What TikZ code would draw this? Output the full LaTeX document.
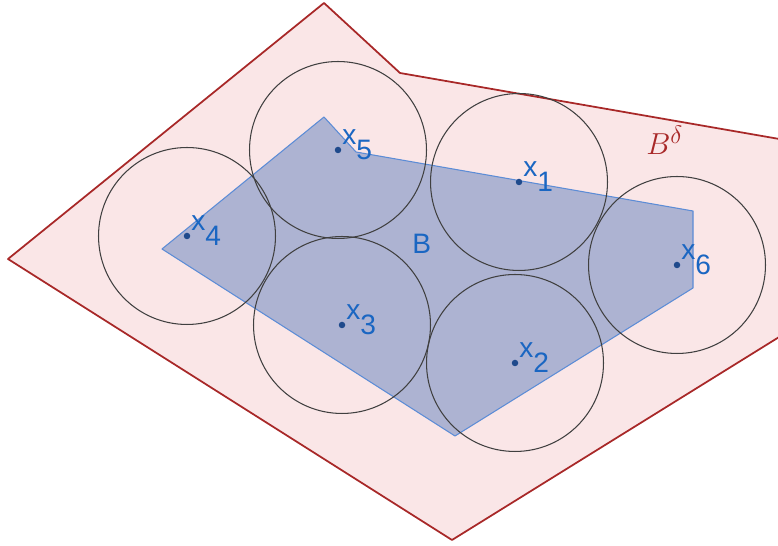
\documentclass[tikz,border=0pt]{standalone}
\usepackage{fontspec}
\setsansfont{Liberation Sans}
\usetikzlibrary{calc}
\definecolor{deltared}{HTML}{A82828}
\definecolor{deltafill}{HTML}{FAE6E7}
\definecolor{bline}{HTML}{5C8CD6}
\definecolor{bfill}{HTML}{ADB3D2}
\definecolor{labblue}{HTML}{1A66C2}
\definecolor{ptblue}{HTML}{1F4A8C}
\newcommand{\xlab}[1]{x\raisebox{-8pt}{#1}}

\begin{document}
\begin{tikzpicture}[x=0.02cm, y=-0.02cm,
  pt/.style={circle, fill=ptblue, inner sep=0pt, minimum size=0.13cm},
  ball/.style={draw=black!75, line width=0.6pt},
  lab/.style={anchor=base west, inner sep=0pt, text=labblue, font=\sffamily\fontsize{16}{18}\selectfont}
]
  \useasboundingbox (0,0) rectangle (778,546);
  \clip (0,0) rectangle (778,546);
  % B^delta
  \filldraw[fill=deltafill, draw=deltared, line width=1pt, line join=round]
    (8,259) -- (324,3) -- (400,73) -- (900,160) -- (900,262) -- (452,540) -- cycle;
  % B
  \filldraw[fill=bfill, draw=bline, line width=0.6pt, line join=round]
    (324,117) -- (356,152) -- (693,211) -- (693,288) -- (455,436) -- (162,249) -- cycle;
  % centres
  \node[pt] (x1) at (519,182) {};
  \node[pt] (x2) at (515,363) {};
  \node[pt] (x3) at (342,325) {};
  \node[pt] (x4) at (187,236) {};
  \node[pt] (x5) at (338,150) {};
  \node[pt] (x6) at (677,265) {};
  \foreach \p in {1,...,6} {
    \draw[ball] (x\p) circle [radius=1.77cm];
    \node[lab] (l\p) at ([shift={(4,-5)}]x\p) {\xlab{\p}};
  }
  \node[lab] (bset) at (412,254) {B};
  \node[anchor=base west, inner sep=0pt, text=deltared, font=\fontsize{19}{21}\selectfont] (bdelta) at (646,155) {$B^{\delta}$};
\end{tikzpicture}
\end{document}
